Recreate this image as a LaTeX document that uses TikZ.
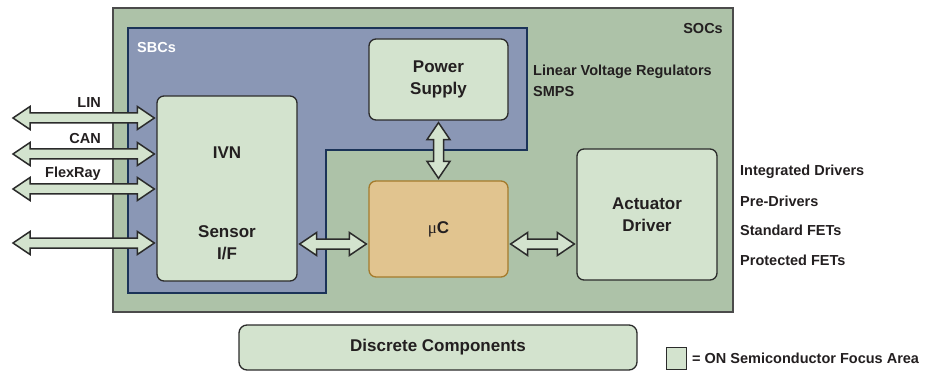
\documentclass[tikz,border=0pt]{standalone}
\usepackage{fontspec}
\setmainfont{Liberation Sans}
\newfontfamily\symfont{Liberation Serif}
\usepackage{xcolor}
\usetikzlibrary{calc}
\definecolor{SOCGREEN}{HTML}{ADC2A8}
\definecolor{SBCBLUE}{HTML}{8A97B5}
\definecolor{FOCUS}{HTML}{D3E3CE}
\definecolor{MCU}{HTML}{E1C48F}
\definecolor{MCUEDGE}{HTML}{A47B2C}
\definecolor{EDGE}{HTML}{2B2B2B}
\definecolor{NAVY}{HTML}{1B3358}
\definecolor{INK}{HTML}{231F20}
\newcommand*{\BoxFont}{\fontsize{17}{22}\selectfont\bfseries}
\newcommand*{\TagFont}{\fontsize{14.5}{20}\selectfont\bfseries}
% hollow double arrow between two points
\newcommand*{\BiArrow}[2]{%
  \draw[biarrow] let \p1=(#1), \p2=(#2),
    \n1={atan2(\y2-\y1,\x2-\x1)}, \n2={veclen(\x2-\x1,\y2-\y1)} in
    [shift={(\p1)}, rotate=\n1]
    (2,0) -- (19,11.5) -- (19,5) -- (\n2-19,5) -- (\n2-19,11.5) -- (\n2-2,0)
    -- (\n2-19,-11.5) -- (\n2-19,-5) -- (19,-5) -- (19,-11.5) -- cycle;}

\begin{document}
\begin{tikzpicture}[x=1pt, y=-1pt,
    focus/.style={draw=EDGE, fill=FOCUS, line width=1.3pt, rounded corners=7pt,
      inner sep=0pt, align=center, font=\BoxFont, text=INK},
    mcu/.style={focus, draw=MCUEDGE, fill=MCU},
    boxtext/.style={align=center, font=\BoxFont, text=INK},
    tag/.style={font=\TagFont, text=INK, inner sep=0pt},
    biarrow/.style={draw=EDGE, fill=FOCUS, line width=1.5pt, line join=miter}]
    \useasboundingbox (0,0) rectangle (925,371);
    % Regions
    \draw[fill=SOCGREEN, draw=EDGE!85, line width=1.1pt] (113,8) rectangle (733,312);
    \draw[fill=SBCBLUE, draw=NAVY, line width=1.2pt]
      (128,28) -- (527,28) -- (527,150) -- (326,150) -- (326,293) -- (128,293) -- cycle;
    \node[tag, anchor=east] (soc) at (723,29) {SOCs};
    \node[tag, anchor=west, text=white] (sbc) at (137,48) {SBCs};
    % Blocks
    \node[focus, minimum width=139, minimum height=81] (psu) at (438.5,79.5) {Power\\Supply};
    \node[focus, minimum width=140, minimum height=185] (ivn) at (227,188.5) {};
    \node[boxtext] (ivnlabel) at (227,153) {IVN};
    \node[boxtext] (sensorlabel) at (227,243) {Sensor\\I/F};
    \node[mcu, minimum width=139, minimum height=96] (uc) at (438.5,229) {{\symfont\mdseries μ}C};
    \node[focus, minimum width=140, minimum height=131] (act) at (647,214.5) {Actuator\\Driver};
    \node[focus, rounded corners=8pt, minimum width=398, minimum height=45] (discrete) at (438,347.5) {Discrete Components};
    % Bus arrows
    \coordinate (linend) at (11,118);
    \coordinate (canend) at (11,154);
    \coordinate (flexend) at (11,189);
    \coordinate (sensend) at (11,243);
    \coordinate (busrow) at (0,244);
    \BiArrow{linend}{ivn.west |- linend}
    \BiArrow{canend}{ivn.west |- canend}
    \BiArrow{flexend}{ivn.west |- flexend}
    \BiArrow{sensend}{ivn.west |- sensend}
    \node[tag, anchor=east] (lin) at (101,103) {LIN};
    \node[tag, anchor=east] (can) at (101,139) {CAN};
    \node[tag, anchor=east] (flexray) at (101,174) {FlexRay};
    % Inner arrows
    \BiArrow{psu.south}{uc.north}
    \BiArrow{ivn.east |- busrow}{uc.west |- busrow}
    \BiArrow{uc.east |- busrow}{act.west |- busrow}
    % Side notes
    \node[tag, anchor=west] (linreg) at (533,72) {Linear Voltage Regulators};
    \node[tag, anchor=west] (smps) at (533,92) {SMPS};
    \node[tag, anchor=west] (integ) at (740,172) {Integrated Drivers};
    \node[tag, anchor=west] (predrv) at (740,201) {Pre-Drivers};
    \node[tag, anchor=west] (stdfet) at (740,230) {Standard FETs};
    \node[tag, anchor=west] (protfet) at (740,260) {Protected FETs};
    % Legend
    \node[focus, rounded corners=0pt, minimum width=20, minimum height=22] (key) at (676.5,358.5) {};
    \node[tag, anchor=west] (keytext) at (692,358) {= ON Semiconductor Focus Area};
\end{tikzpicture}
\end{document}
